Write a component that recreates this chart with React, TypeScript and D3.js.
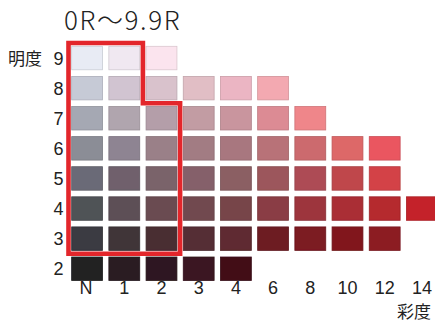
import React from "react";
import * as d3 from "d3";

const title = "0R～9.9R";
const chromaLabels = ["N", "1", "2", "3", "4", "6", "8", "10", "12", "14"];
const valueLabels = ["9", "8", "7", "6", "5", "4", "3", "2"];
const yAxisTitle = "明度";
const xAxisTitle = "彩度";

// colours of each chip per value (明度) row, by chroma column from N
const row9 = ["#e8ebf4", "#f0e8f1", "#fbe4ee"];
const row8 = ["#c6cad6", "#d1c4d1", "#d9c2cc", "#e1bec5", "#ebb5c3", "#f3a9b1"];
const row7 = ["#a5a8b3", "#b0a5ae", "#b49ea9", "#c29ca3", "#c9959e", "#dc8b94", "#ef868a"];
const row6 = ["#8b8d96", "#8e8492", "#9a8088", "#a27c83", "#a8777f", "#b87278", "#cc6b6e", "#dd6768", "#ea5761"];
const row5 = ["#6b6b77", "#6f616c", "#7a636a", "#85616a", "#8b5e63", "#9c575b", "#ad4b55", "#bf474b", "#d34347"];
const row4 = ["#505257", "#5d4f56", "#6a4b51", "#714a50", "#774549", "#8a3c44", "#9d353d", "#aa2e35", "#b5292f", "#c42229"];
const row3 = ["#3a3a42", "#3f3539", "#4a2d32", "#552e35", "#5e2a30", "#6d1c24", "#7b1a21", "#81191f", "#8c1c22"];
const row2 = ["#212224", "#2a1f21", "#2e1820", "#3a1620", "#420d19"];
const rows = [row9, row8, row7, row6, row5, row4, row3, row2];

const W = 435;
const H = 323;
const CJK = "'Noto Sans CJK JP', 'Noto Sans', sans-serif";
const LAT = "'Liberation Sans', Arial, sans-serif";

export default function App() {
  const x = d3
    .scaleBand<string>()
    .domain(chromaLabels)
    .range([68.5, 68.5 + 372])
    .paddingInner(0.17)
    .paddingOuter(0.085);
  const y = d3
    .scaleBand<string>()
    .domain(valueLabels)
    .range([43, 43 + 8 * 30.1])
    .paddingInner(0.22)
    .paddingOuter(0.11);

  const gx = x.step() - x.bandwidth();
  const gy = y.step() - y.bandwidth();
  const left = x("N")! - gx / 2;
  const top = y("9")! - gy / 2;
  const r1 = x("1")! + x.bandwidth() + gx / 2;
  const r2 = x("2")! + x.bandwidth() + gx / 2;
  const step = y("7")! - gy / 2;
  const bottom = y("3")! + y.bandwidth() + gy / 2;
  const path = d3.path();
  path.moveTo(left, top);
  path.lineTo(r1, top);
  path.lineTo(r1, step);
  path.lineTo(r2, step);
  path.lineTo(r2, bottom);
  path.lineTo(left, bottom);
  path.closePath();

  return (
    <svg
      width={W}
      height={H}
      style={{ position: "absolute", left: 0, top: 0, background: "#fff" }}
    >
      <defs>
        <filter id="soft" x="-10%" y="-10%" width="120%" height="120%">
          <feGaussianBlur stdDeviation="0.6" />
        </filter>
      </defs>
      <text x={64} y={30} fontFamily={CJK} fontSize={26} fontWeight={300} fill="#222" letterSpacing={1.6}>
        {title}
      </text>
      <g filter="url(#soft)">
        {rows.map((row, ri) =>
          row.map((c, ci) => (
            <rect
              key={`${ri}-${ci}`}
              x={x(chromaLabels[ci])}
              y={y(valueLabels[ri])}
              width={x.bandwidth()}
              height={y.bandwidth()}
              fill={c}
              stroke={d3.color(c)!.darker(0.4).formatHex()}
              strokeWidth={0.8}
            />
          ))
        )}
      </g>
      <path d={path.toString()} fill="none" stroke="#e3262b" strokeWidth={4.6} />
      {valueLabels.map((v) => (
        <text
          key={v}
          x={63.5}
          y={y(v)! + y.bandwidth() / 2}
          dy="0.36em"
          textAnchor="end"
          fontFamily={LAT}
          fontSize={18}
          fill="#222"
        >
          {v}
        </text>
      ))}
      <text x={8} y={y("9")! + y.bandwidth() / 2 + 1} dy="0.36em" fontFamily={CJK} fontSize={17} fill="#222">
        {yAxisTitle}
      </text>
      {chromaLabels.map((c) => (
        <text
          key={c}
          x={x(c)! + x.bandwidth() / 2 - (c === "N" ? 1 : 0)}
          y={294}
          textAnchor="middle"
          fontFamily={LAT}
          fontSize={18}
          fill="#222"
        >
          {c}
        </text>
      ))}
      <text x={431} y={318} textAnchor="end" fontFamily={CJK} fontSize={17} fill="#222">
        {xAxisTitle}
      </text>
    </svg>
  );
}
